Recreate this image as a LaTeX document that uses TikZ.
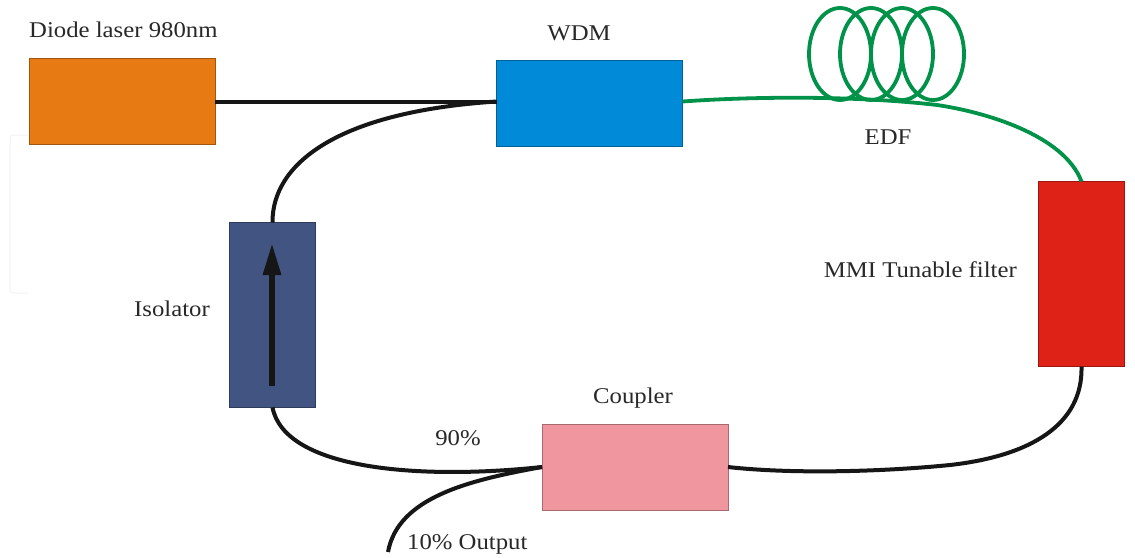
\documentclass[tikz,border=0pt]{standalone}
\usepackage{fontspec}
\setmainfont[FakeStretch=1.1]{Liberation Serif}
\usetikzlibrary{arrows.meta}
\definecolor{laserc}{RGB}{232,122,20}
\definecolor{wdmc}{RGB}{0,138,216}
\definecolor{isoc}{RGB}{66,84,130}
\definecolor{coupc}{RGB}{240,150,158}
\definecolor{filtc}{RGB}{222,34,24}
\definecolor{fibg}{RGB}{0,146,72}
\definecolor{fibk}{RGB}{22,22,22}
\definecolor{txt}{RGB}{40,40,40}
\tikzset{
  x=1pt,y=-1pt,
  devbox/.style={draw=#1!70!black,line width=0.8pt,fill=#1,minimum width=186pt,minimum height=86pt,inner sep=0pt,outer sep=0pt},
  tallbox/.style={devbox=#1,minimum width=86pt,minimum height=185pt},
  lbl/.style={text=txt,font=\fontsize{22.5}{25}\selectfont,inner sep=0pt,anchor=base},
  fibre/.style={draw=fibk,line width=4pt},
  gfibre/.style={draw=fibg,line width=3.8pt},
  ghost/.style={draw=black!5,line width=1pt,rounded corners=3pt}
}
\begin{document}
\begin{tikzpicture}
\useasboundingbox (0,0) rectangle (1135,557);
\fill[white] (0,0) rectangle (1135,557);
\draw[ghost] (28,135) -- (10,135) -- (10,293) -- (28,293);
% coils
\foreach \cx in {840,871,902,933}
  \draw[gfibre] (\cx,54) ellipse [x radius=31,y radius=46];
% boxes
\node[devbox=laserc] (laser) at (122,101.5) {};
\node[devbox=wdmc] (wdm) at (589.5,103) {};
\node[tallbox=isoc] (iso) at (272.5,315) {};
\node[devbox=coupc] (coup) at (635,467) {};
\node[tallbox=filtc] (filt) at (1081.5,274) {};
\coordinate (out) at (388,552);
\coordinate (arrtail) at (272,386);
\coordinate (arrtip) at (272,243);
\coordinate (gbend) at (937,105);
\coordinate (kbend) at (950,465);
% connectors
\draw[fibre] (laser.east) -- (wdm.west |- laser.east);
\draw[fibre] (iso.north) .. controls (272,165) and (335,112) .. (wdm.west |- laser.east);
\draw[fibre] (iso.south) .. controls (285,470) and (420,480) .. (coup.west);
\draw[fibre] (coup.west) .. controls (470,480) and (398,497) .. (out);
\draw[fibre] (coup.east) .. controls (790,474) and (880,472) .. (kbend) .. controls (1030,456) and (1083,425) .. (filt.south);
\draw[gfibre] (wdm.east |- laser.east) .. controls (760,96) and (860,96) .. (gbend) .. controls (985,112) and (1064,135) .. (filt.north);
\draw[fibk,line width=6pt,-{Triangle[length=32pt,width=17pt]}] (arrtail) -- (arrtip);
% labels
\node[lbl,anchor=base west] (tlaser) at (29,37) {Diode laser 980nm};
\node[lbl] (twdm) at (579,40) {WDM};
\node[lbl] (tedf) at (888,144) {EDF};
\node[lbl,anchor=base east] (tmmi) at (1017,277) {MMI Tunable filter};
\node[lbl] (tiso) at (172,316) {Isolator};
\node[lbl] (tcoup) at (633,403) {Coupler};
\node[lbl] (t90) at (458,445) {90\%};
\node[lbl,anchor=base west] (t10) at (407,549) {10\% Output};
\end{tikzpicture}
\end{document}
